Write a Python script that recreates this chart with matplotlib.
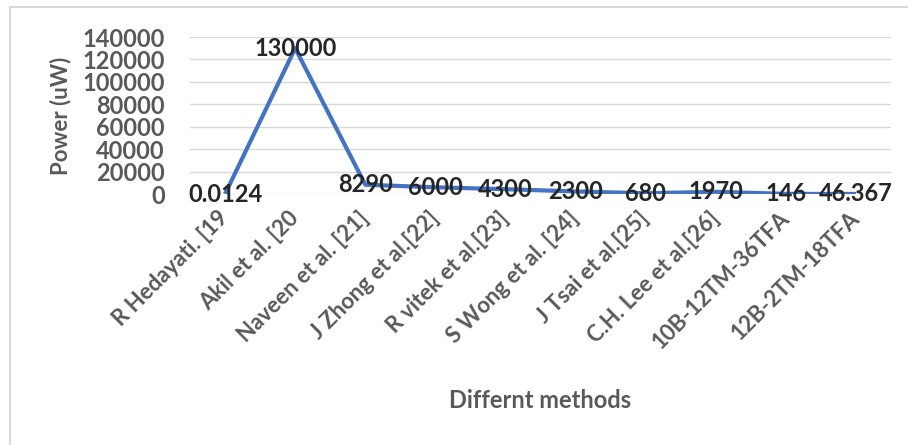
import matplotlib.pyplot as plt
from matplotlib.patches import Rectangle

# data
methods = ['R Hedayati. [19', 'Akil et al. [20', 'Naveen et al. [21]', 'J Zhong et al.[22]',
           'R vitek et al.[23]', 'S Wong et al. [24]', 'J Tsai et al.[25]', 'C.H. Lee et al.[26]',
           '10B-12TM-36TFA', '12B-2TM-18TFA']
power = [0.0124, 130000, 8290, 6000, 4300, 2300, 680, 1970, 146, 46.367]
point_labels = ['0.0124', '130000', '8290', '6000', '4300', '2300', '680', '1970', '146', '46.367']
yticks = [0, 20000, 40000, 60000, 80000, 100000, 120000, 140000]

plt.rcParams['font.family'] = ['Lato', 'DejaVu Sans']
gray = '#595959'

fig = plt.figure(figsize=(9.08, 4.45), dpi=100)
ax = fig.add_axes([0.2093, 0.564, 0.772, 0.3528])

# chart border (only top/left visible in the crop)
fig.patches.append(Rectangle((10 / 908, -0.1), 1.2, 1 - 7 / 445 + 0.1, transform=fig.transFigure,
                             fill=False, edgecolor='#d9d9d9', linewidth=1.5))

x = range(len(methods))
ax.plot(x, power, color='#4472C4', linewidth=3, solid_capstyle='butt', zorder=3)

for xi, yi, lab in zip(x, power, point_labels):
    ax.text(xi, yi, lab, ha='center', va='center', fontsize=17, fontweight='bold',
            color='#262626', zorder=4)

ax.set_xlim(-0.5, len(methods) - 0.5)
ax.set_ylim(0, 140000)
ax.set_yticks(yticks)
ax.set_yticklabels([str(v) for v in yticks], fontsize=17, fontweight='bold', color=gray)
ax.yaxis.grid(True, color='#d9d9d9', linewidth=1)
ax.set_axisbelow(True)

ax.set_xticks(list(x))
ax.set_xticklabels(methods, rotation=45, ha='right', va='center', rotation_mode='anchor',
                   fontsize=16, fontweight='bold', color=gray)
ax.tick_params(axis='x', length=0, pad=15)
ax.tick_params(axis='y', length=0, pad=18)

for s in ax.spines.values():
    s.set_visible(False)

ax.set_ylabel('Power (uW)', fontsize=16, fontweight='bold', color=gray, labelpad=8)
fig.text(0.595, 0.1, 'Differnt methods', ha='center', va='center', fontsize=17,
         fontweight='bold', color=gray)

fig.savefig('out.png', dpi=100)
